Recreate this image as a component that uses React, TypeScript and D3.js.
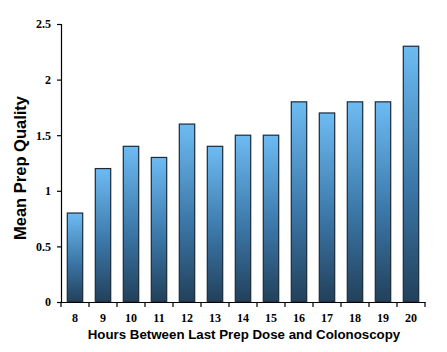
import React, { useRef, useEffect } from "react";
import { select, scaleBand, scaleLinear, axisBottom, axisLeft } from "d3";

const hours = ["8", "9", "10", "11", "12", "13", "14", "15", "16", "17", "18", "19", "20"];
const meanQuality = [0.8, 1.2, 1.4, 1.3, 1.6, 1.4, 1.5, 1.5, 1.8, 1.7, 1.8, 1.8, 2.3];
const yTicks = [0, 0.5, 1, 1.5, 2, 2.5];

const width = 447;
const height = 352;
const margin = { top: 24, right: 22, bottom: 50, left: 61 };

const App: React.FC = () => {
  const svgRef = useRef<SVGSVGElement>(null);

  useEffect(() => {
    const svg = select(svgRef.current);
    svg.selectAll("*").remove();

    const innerHeight = height - margin.top - margin.bottom;

    const x = scaleBand<string>().domain(hours).range([0, 28 * hours.length]).paddingInner(0.45).paddingOuter(0.225);
    const y = scaleLinear().domain([0, 2.5]).range([innerHeight, 0]);

    // gradient per bar
    const grad = svg
      .append("defs")
      .append("linearGradient")
      .attr("id", "barGrad")
      .attr("x1", 0)
      .attr("y1", 0)
      .attr("x2", 0)
      .attr("y2", 1);
    grad.append("stop").attr("offset", "0%").attr("stop-color", "#6dbbf3");
    grad.append("stop").attr("offset", "55%").attr("stop-color", "#3b77a8");
    grad.append("stop").attr("offset", "100%").attr("stop-color", "#22405a");

    const g = svg.append("g").attr("transform", `translate(${margin.left},${margin.top})`);

    // barras
    g.selectAll("rect.bar")
      .data(meanQuality)
      .enter()
      .append("rect")
      .attr("class", "bar")
      .attr("x", (_, i) => x(hours[i])!)
      .attr("y", (d) => y(d))
      .attr("width", x.bandwidth())
      .attr("height", (d) => innerHeight - y(d))
      .attr("fill", "url(#barGrad)")
      .attr("stroke", "#1a2a38")
      .attr("stroke-width", 1.2);

    // ejes
    const xAxisG = g
      .append("g")
      .attr("transform", `translate(0,${innerHeight})`)
      .call(axisBottom(x).tickSize(0).tickPadding(11));
    xAxisG.select(".domain").attr("stroke", "#000").attr("stroke-width", 1.2);
    // tick marks between categories
    const step = x.step();
    for (let i = 0; i <= hours.length; i++) {
      xAxisG
        .append("line")
        .attr("x1", i * step)
        .attr("x2", i * step)
        .attr("y1", 0)
        .attr("y2", 5)
        .attr("stroke", "#000")
        .attr("stroke-width", 1.2);
    }

    const yAxisG = g.append("g").call(axisLeft(y).tickValues(yTicks).tickSize(4).tickPadding(6).tickFormat((d) => String(d)));
    yAxisG.selectAll("path, line").attr("stroke", "#000").attr("stroke-width", 1.2);

    [xAxisG, yAxisG].forEach((axisG) => {
      axisG
        .selectAll("text")
        .attr("fill", "#000")
        .attr("font-family", "'Liberation Serif', 'Times New Roman', serif")
        .attr("font-weight", "bold")
        .attr("font-size", 12);
    });

    // títulos
    svg
      .append("text")
      .attr("x", 244)
      .attr("y", 339)
      .attr("text-anchor", "middle")
      .attr("font-family", "'Liberation Sans', Arial, sans-serif")
      .attr("font-weight", "bold")
      .attr("font-size", 13.3)
      .text("Hours Between Last Prep Dose and Colonoscopy");

    svg
      .append("text")
      .attr("transform", "translate(26,168) rotate(-90)")
      .attr("text-anchor", "middle")
      .attr("font-family", "'Liberation Sans', Arial, sans-serif")
      .attr("font-weight", "bold")
      .attr("font-size", 16.5)
      .text("Mean Prep Quality");
  }, []);

  return (
    <svg
      ref={svgRef}
      width={width}
      height={height}
      viewBox={`0 0 ${width} ${height}`}
      style={{ position: "absolute", left: 0, top: 0, background: "#fff" }}
    />
  );
};

export default App;
